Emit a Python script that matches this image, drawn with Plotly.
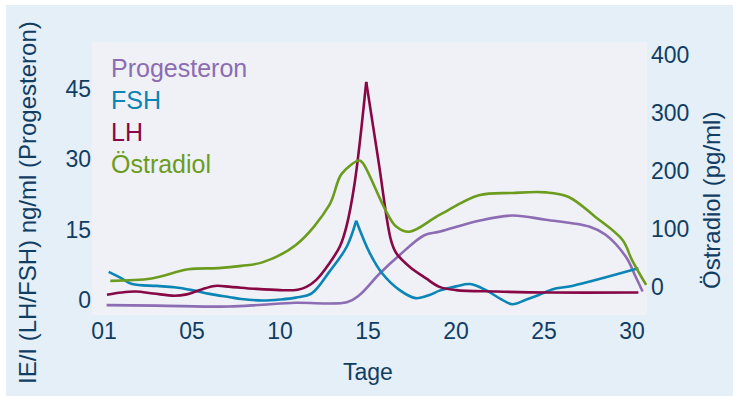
import plotly.graph_objects as go

# ---- data ----
prog_days = [0.15, 3.0, 7.1, 9.0, 10.9, 13.8, 14.5, 15.65, 16.8, 18.2, 19.1, 21.3, 23.2, 25.1, 27.6, 28.5, 29.65, 30.2, 30.6]
prog_vals = [-1.1, -1.2, -1.4, -1.0, -0.6, -0.5, 1.0, 5.6, 9.6, 13.8, 14.6, 16.9, 18.0, 17.1, 15.6, 13.9, 9.2, 5.0, 1.8]

fsh_days = [0.27, 1.0, 1.6, 3.0, 4.0, 5.0, 6.0, 7.15, 7.8, 9.0, 10.0, 10.9, 11.8, 12.8, 13.8, 14.33,
            15.1, 15.8, 16.8, 17.7, 18.5, 19.06, 20.0, 20.8, 21.7, 22.5, 23.2, 24.0, 24.7, 25.5, 26.6, 30.36]
fsh_vals = [6.0, 4.6, 3.4, 3.0, 2.7, 2.1, 1.3, 0.6, 0.2, -0.1, 0.1, 0.5, 1.4, 6.0, 11.4, 16.9,
            10.0, 5.7, 2.1, 0.4, 1.07, 2.0, 2.9, 3.4, 2.1, 0.3, -0.9, 0.1, 1.07, 2.3, 3.0, 6.75]

lh_days = [0.17, 1.0, 1.8, 2.8, 4.0, 4.7, 5.5, 6.3, 7.2, 8.5, 10.0, 11.0, 11.5, 12.06, 12.8, 13.4, 13.77, 14.24,
           14.9, 15.6, 16.3, 16.6, 17.36, 18.3, 19.06, 20.0, 22.3, 25.3, 30.36]
lh_vals = [1.1, 1.6, 1.8, 1.4, 0.9, 1.2, 2.2, 3.0, 2.8, 2.4, 2.1, 2.2, 2.8, 4.3, 7.8, 11.4, 15.6, 24.9,
           46.5, 29.5, 12.8, 10.0, 7.1, 4.6, 2.8, 2.1, 1.8, 1.6, 1.6]

oe_days = [0.36, 2.7, 4.8, 6.5, 7.8, 9.0, 10.9, 12.8, 13.5, 14.5, 14.7, 16.0, 16.6, 17.36, 19.06, 21.3, 23.2,
           25.1, 26.4, 27.9, 29.45, 30.0, 30.8]
oe_vals = [10, 14, 30, 32, 36, 42, 72, 141, 195, 218, 214, 132, 104, 95, 124, 158, 162, 163, 155, 121, 81, 46, 3]

x_tickvals = [0, 5, 10, 15, 20, 25, 30]
x_ticktext = ["01", "05", "10", "15", "20", "25", "30"]
yl_ticks = [0, 15, 30, 45]
yr_ticks = [0, 100, 200, 300, 400]
names = ["Progesteron", "FSH", "LH", "Östradiol"]

C_PROG = "#8c6cb2"
C_FSH = "#0b84b6"
C_LH = "#870845"
C_OE = "#6c9c1e"
NAVY = "#123d63"
FONT = "Liberation Sans, Arial, sans-serif"
LW = 2.6

fig = go.Figure()

def add(x, y, color, axis="y", shape="spline"):
    fig.add_trace(go.Scatter(x=x, y=y, mode="lines", yaxis=axis, showlegend=False,
                             line=dict(color=color, width=LW, shape=shape, smoothing=1.0),
                             hoverinfo="skip"))

def add_peaked(x, y, color):
    i = y.index(max(y))
    add(x[:i + 1], y[:i + 1], color)
    add(x[i:], y[i:], color)

add(oe_days, oe_vals, C_OE, axis="y2")
add(prog_days, prog_vals, C_PROG)
add_peaked(fsh_days, fsh_vals, C_FSH)
add_peaked(lh_days, lh_vals, C_LH)

# page offset (body margin) and figure size
OX, OY = 6, 5
W, H = 733 - OX, 396 - OY
# plot area in screen pixels
SL, SR, ST, SB = 92, 647, 42, 315
L, R, T, B = SL - OX, (W + OX) - SR, ST - OY, (H + OY) - SB
pw, ph = SR - SL, SB - ST

def px(xs):
    return (xs - SL) / pw

def py(ys):
    return (SB - ys) / ph

fig.update_layout(
    width=W, height=H,
    margin=dict(l=L, r=R, t=T, b=B, pad=0),
    paper_bgcolor="#e4eff8",
    plot_bgcolor="#eff1f7",
    font=dict(family=FONT, color=NAVY, size=23),
    xaxis=dict(range=[-0.68, 30.85], tickvals=x_tickvals, ticktext=x_ticktext,
               showgrid=False, zeroline=False, showline=False, ticks="",
               tickfont=dict(size=23, color=NAVY)),
    yaxis=dict(range=[-3.2, 55], tickvals=yl_ticks, showgrid=False, zeroline=False,
               showline=False, ticks="", tickfont=dict(size=23, color=NAVY)),
    yaxis2=dict(range=[-49, 423], tickvals=yr_ticks, overlaying="y", side="right",
                showgrid=False, zeroline=False, showline=False, ticks="",
                ticklabelstandoff=3, tickfont=dict(size=23, color=NAVY)),
)

annots = []
legend_colors = [C_PROG, C_FSH, C_LH, C_OE]
legend_y = [67.5, 100, 131.7, 163.8]
for n, c, yy in zip(names, legend_colors, legend_y):
    annots.append(dict(text=n, xref="paper", yref="paper", x=px(109), y=py(yy),
                       xanchor="left", yanchor="middle", showarrow=False,
                       font=dict(size=25, color=c, family=FONT)))
annots.append(dict(text="IE/I (LH/FSH) ng/ml (Progesteron)", xref="paper", yref="paper",
                   x=px(27), y=py(203), textangle=-90, showarrow=False,
                   xanchor="center", yanchor="middle", font=dict(size=24, color=NAVY)))
annots.append(dict(text="Östradiol (pg/ml)", xref="paper", yref="paper",
                   x=px(712), y=py(201), textangle=-90, showarrow=False,
                   xanchor="center", yanchor="middle", font=dict(size=24, color=NAVY)))
annots.append(dict(text="Tage", xref="paper", yref="paper", x=px(368), y=py(372),
                   showarrow=False, xanchor="center", yanchor="middle",
                   font=dict(size=23, color=NAVY)))
fig.update_layout(annotations=annots)

fig.write_html("out.html",
               post_script="document.body.style.margin='%dpx 0px 0px %dpx';"
                           "document.body.style.overflow='hidden';" % (OY, OX))
